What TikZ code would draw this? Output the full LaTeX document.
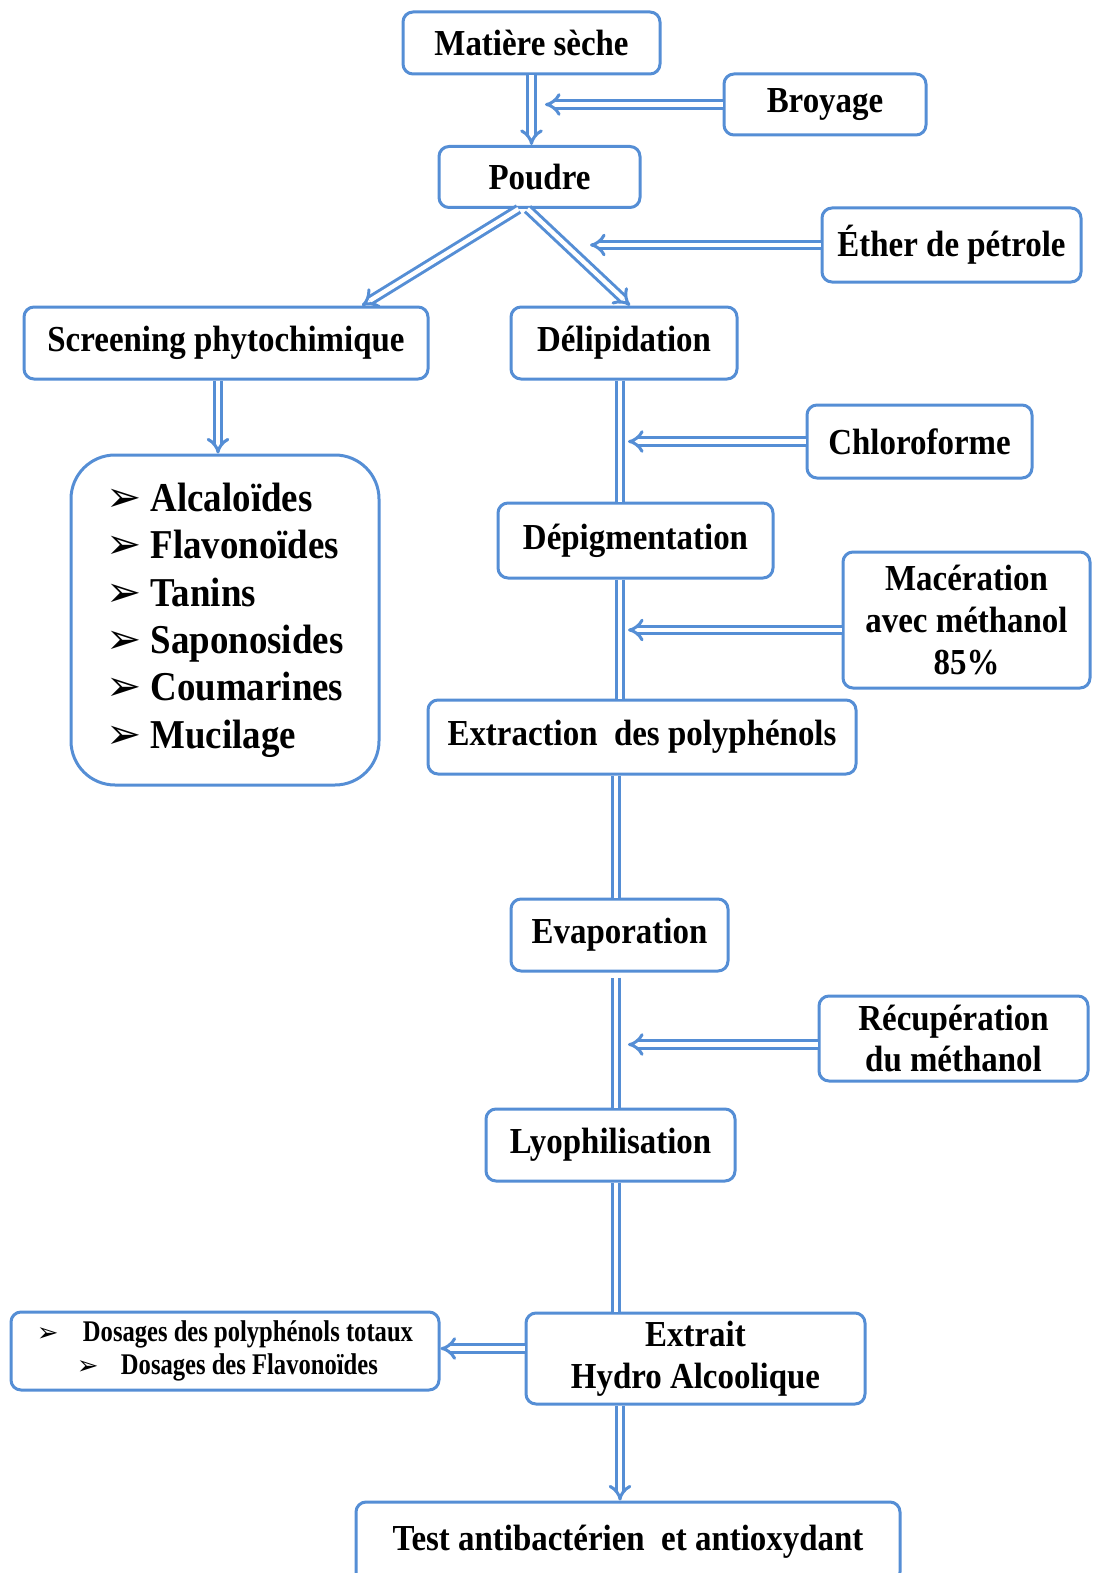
\documentclass[tikz,border=0pt]{standalone}
\usepackage{fontspec}
\setmainfont{Liberation Serif}[FakeStretch=0.9]
\newfontfamily\dosfont{Liberation Serif}[FakeStretch=0.82]
\newfontfamily\symfont{DejaVu Sans}
\usetikzlibrary{arrows.meta}
\definecolor{boxblue}{RGB}{85,142,213}
\newcommand{\puce}[2]{\makebox[#1][l]{\symfont\fontsize{#2}{#2}\selectfont ➢}}

\begin{document}
\begin{tikzpicture}[x=0.5pt,y=-0.5pt,
		box/.style={draw=boxblue,line width=1.5pt,rounded corners=5pt,fill=white,align=center,inner sep=0pt,font=\fontsize{18.3}{20.8}\selectfont\bfseries},
		dbl/.style={draw=boxblue,line width=1.5pt,double=white,double distance=2.2pt},
		dblarrow/.style={dbl,-{Implies[scale=1.35]}}]
		\useasboundingbox (0,0) rectangle (1093,1573);
		
		\node[box,minimum width=128.5pt,minimum height=31pt] (matiere) at (531.5,43) {Matière sèche};
		\node[box,minimum width=101pt,minimum height=30.5pt] (broyage) at (825,104.5) {Broyage};
		\node[box,minimum width=100.5pt,minimum height=30.5pt] (poudre) at (539.5,177) {Poudre};
		\node[box,minimum width=129.5pt,minimum height=37pt] (ether) at (951.5,245) {Éther de pétrole};
		\node[box,minimum width=202pt,minimum height=36pt] (screen) at (226,343) {Screening phytochimique};
		\node[box,minimum width=113pt,minimum height=36pt] (delip) at (624,343) {Délipidation};
		\node[box,minimum width=112.5pt,minimum height=36.5pt] (chloro) at (919.5,441.5) {Chloroforme};
		\node[box,minimum width=137.5pt,minimum height=37.5pt] (depig) at (635.5,540.5) {Dépigmentation};
		\node[box,minimum width=123.5pt,minimum height=68pt] (macer) at (966.5,620) {Macération\\avec méthanol\\85\%};
		\node[box,minimum width=214pt,minimum height=37pt] (extract) at (642,737) {Extraction~ des polyphénols};
		\node[box,minimum width=108.5pt,minimum height=36pt] (evap) at (619.5,935) {Evaporation};
		\node[box,minimum width=134.5pt,minimum height=42.5pt] (recup) at (953.5,1038.5) {Récupération\\du méthanol};
		\node[box,minimum width=124.5pt,minimum height=36pt] (lyo) at (610.5,1145) {Lyophilisation};
		\node[box,minimum width=169.5pt,minimum height=45.5pt] (extrait) at (695.5,1358.5) {Extrait\\Hydro Alcoolique};
		\node[box,minimum width=272pt,minimum height=40pt] (test) at (628,1542) {Test antibactérien~ et antioxydant};
		
		% liste du screening
		\node[box,minimum width=154pt,minimum height=165pt,rounded corners=22pt,align=left,font=\fontsize{20.5}{23.7}\selectfont\bfseries] (tests) at (225,620)
		{\puce{22pt}{21}Alcaloïdes\\\puce{22pt}{21}Flavonoïdes\\\puce{22pt}{21}Tanins\\\puce{22pt}{21}Saponosides\\\puce{22pt}{21}Coumarines\\\puce{22pt}{21}Mucilage};
		\node[box,minimum width=214pt,minimum height=39pt,align=left,font=\dosfont\fontsize{15}{16.5}\selectfont\bfseries] (dosage) at (225,1351)
		{\puce{23pt}{13}Dosages des polyphénols totaux\\\hspace{20pt}\puce{22pt}{13}Dosages des Flavonoïdes};
		
		\coordinate (haut) at (620,0);
		\coordinate (bas) at (616,0);
		\coordinate (pb) at (545,0);
		\coordinate (pe) at (590,0);
		\coordinate (pc) at (628,0);
		
		\draw[dblarrow] (matiere.south) -- (matiere.south |- poudre.north);
		\draw[dblarrow] (broyage.west) -- (broyage.west -| pb);
		\draw[dblarrow] ([xshift=-10.5pt]poudre.south) -- ([xshift=68pt]screen.north);
		\draw[dblarrow] ([xshift=-6pt]poudre.south) -- ([xshift=3pt]delip.north);
		\draw[dblarrow] (ether.west) -- (ether.west -| pe);
		\draw[dblarrow] ([xshift=-4pt]screen.south) -- ([xshift=-4pt]screen.south |- tests.north);
		\draw[dbl] (delip.south -| haut) -- (depig.north -| haut);
		\draw[dblarrow] (chloro.west) -- (chloro.west -| pc);
		\draw[dbl] (depig.south -| haut) -- (extract.north -| haut);
		\draw[dblarrow] ([yshift=-5pt]macer.west) -- ([yshift=-5pt]macer.west -| pc);
		\draw[dbl] (extract.south -| bas) -- (evap.north -| bas);
		\draw[dbl] ([yshift=-2.5pt]evap.south -| bas) -- (lyo.north -| bas);
		\draw[dblarrow] ([yshift=-3pt]recup.west) -- ([yshift=-3pt]recup.west -| pc);
		\draw[dbl] (lyo.south -| bas) -- (extrait.north -| bas);
		\draw[dblarrow] ([yshift=5pt]extrait.west) -- ([yshift=5pt]extrait.west -| dosage.east);
		\draw[dblarrow] (extrait.south -| haut) -- (test.north -| haut);
\end{tikzpicture}
\end{document}
